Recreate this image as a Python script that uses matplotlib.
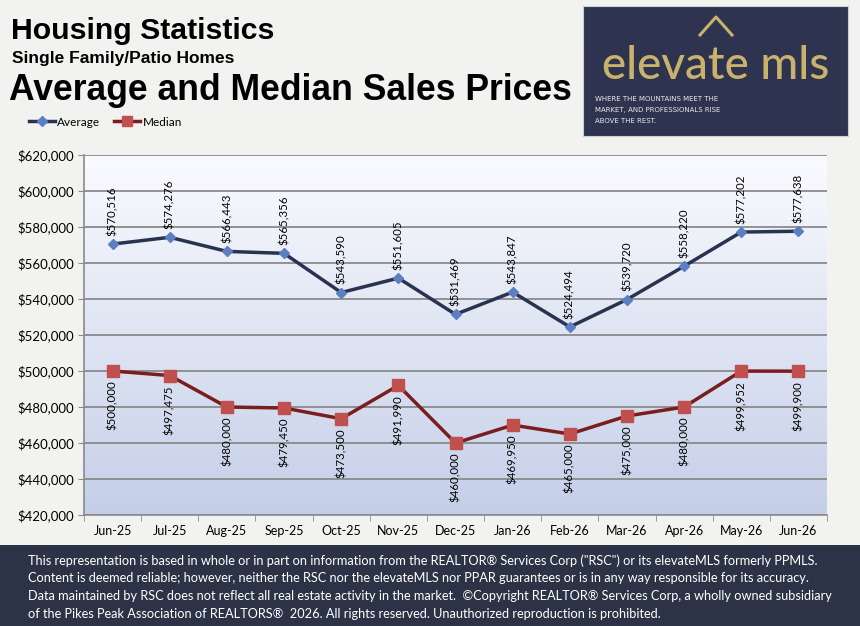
import numpy as np
import matplotlib.pyplot as plt
from matplotlib.patches import Rectangle
from matplotlib.lines import Line2D

# chart data
months = ['Jun-25', 'Jul-25', 'Aug-25', 'Sep-25', 'Oct-25', 'Nov-25', 'Dec-25',
          'Jan-26', 'Feb-26', 'Mar-26', 'Apr-26', 'May-26', 'Jun-26']
average = [570516, 574276, 566443, 565356, 543590, 551605, 531469,
           543847, 524494, 539720, 558220, 577202, 577638]
median = [500000, 497475, 480000, 479450, 473500, 491990, 460000,
          469950, 465000, 475000, 480000, 499952, 499900]
y_ticks = list(range(420000, 620001, 20000))

footer_lines = [
    'This representation is based in whole or in part on information from the REALTOR\u00ae Services Corp ("RSC") or its elevateMLS formerly PPMLS.',
    'Content is deemed reliable; however, neither the RSC nor the elevateMLS nor PPAR guarantees or is in any way responsible for its accuracy.',
    'Data maintained by RSC does not reflect all real estate activity in the market.  \u00a9Copyright REALTOR\u00ae Services Corp, a wholly owned subsidiary',
    'of the Pikes Peak Association of REALTORS\u00ae  2026. All rights reserved. Unauthorized reproduction is prohibited.',
]

W, H = 860, 626
fig = plt.figure(figsize=(W / 100, H / 100), dpi=100, facecolor='#f2f2f0')

def fx(px):
    return px / W

def fy(py):
    return 1 - py / H

# titles
fig.text(fx(11), fy(31), 'Housing Statistics', fontsize=21.8, fontweight='bold',
         family='Liberation Sans', va='center', ha='left')
fig.text(fx(12), fy(58), 'Single Family/Patio Homes', fontsize=12.5, fontweight='bold',
         family='Liberation Sans', va='center', ha='left')
fig.text(fx(9), fy(90), 'Average and Median Sales Prices', fontsize=25.6, fontweight='bold',
         family='Liberation Sans', va='center', ha='left')

# logo block
gold = '#c8b26c'
fig.patches.append(Rectangle((fx(583), fy(136)), fx(848) - fx(583), fy(6) - fy(136),
                             transform=fig.transFigure, facecolor='#2e3450',
                             edgecolor='#d0d0d0', lw=0.8))
fig.lines.append(Line2D([fx(700), fx(716), fx(732)], [fy(35), fy(17), fy(35)],
                        transform=fig.transFigure, color=gold, lw=2.2))
fig.text(fx(716), fy(66), 'elevate mls', fontsize=33, color=gold, ha='center',
         va='center', family='Lato', fontweight='medium')
for i, line in enumerate(['WHERE THE MOUNTAINS MEET THE',
                          'MARKET, AND PROFESSIONALS RISE',
                          'ABOVE THE REST.']):
    fig.text(fx(595), fy(99 + i * 11), line, fontsize=5, color='#e8e8ee', ha='left',
             va='center', family='DejaVu Sans')

# footer band
fig.patches.append(Rectangle((0, 0), 1, fy(545), transform=fig.transFigure,
                             facecolor='#2c3347', edgecolor='none'))
for i, line in enumerate(footer_lines):
    fig.text(fx(28), fy(561 + i * 17.5), line, fontsize=9.2, color='white',
             ha='left', va='center', family='Lato')

# chart
ax = fig.add_axes([fx(84), fy(515), fx(827) - fx(84), fy(155) - fy(515)])
ax.set_facecolor('none')
grad = np.linspace(0, 1, 256).reshape(-1, 1)
top = np.array([0.98, 0.985, 1.0])
bot = np.array([0.77, 0.81, 0.91])
img = top + (bot - top) * grad[..., None]
ax.imshow(img, extent=[0, 1, 0, 1], transform=ax.transAxes, aspect='auto', zorder=0)

x = np.arange(len(months))
ax.set_xlim(-0.5, len(months) - 0.5)
ax.set_ylim(420000, 620000)
ax.set_yticks(y_ticks)
ax.set_yticklabels(['${:,.0f}'.format(v) for v in y_ticks])
ax.set_xticks(x)
ax.set_xticklabels(months)
ax.set_xticks(np.arange(-0.5, len(months)), minor=True)
ax.grid(axis='y', color='#8a8a8a', lw=1.3, zorder=1)
ax.set_axisbelow(False)
for s in ['top', 'right']:
    ax.spines[s].set_visible(False)
for s in ['left', 'bottom']:
    ax.spines[s].set_color('#8a8a8a')
    ax.spines[s].set_linewidth(1.2)
ax.tick_params(axis='x', which='major', length=0, pad=7, labelsize=9)
ax.tick_params(axis='x', which='minor', length=4, color='#8a8a8a')
ax.tick_params(axis='y', length=4, color='#8a8a8a', labelsize=9.5, pad=3)
for lab in ax.get_xticklabels() + ax.get_yticklabels():
    lab.set_family('Lato')

ax.plot(x, average, color='#28344f', lw=2.5, marker='D', markersize=5.5,
        markerfacecolor='#5b7fc2', markeredgecolor='#5b7fc2', zorder=3, clip_on=False)
ax.plot(x, median, color='#7a1d1f', lw=2.5, marker='s', markersize=8,
        markerfacecolor='#c0504d', markeredgecolor='#c0504d', zorder=3, clip_on=False)

for xi, v in zip(x, average):
    ax.annotate('${:,.0f}'.format(v), (xi, v), xytext=(0, 6), textcoords='offset points',
                rotation=90, ha='center', va='bottom', fontsize=8.3, family='Lato', zorder=4)
for xi, v in zip(x, median):
    ax.annotate('${:,.0f}'.format(v), (xi, v), xytext=(0, -7), textcoords='offset points',
                rotation=90, ha='center', va='top', fontsize=8.3, family='Lato', zorder=4)

handles = [
    Line2D([], [], color='#28344f', lw=2.5, marker='D', markersize=5,
           markerfacecolor='#5b7fc2', markeredgecolor='#5b7fc2'),
    Line2D([], [], color='#7a1d1f', lw=2.5, marker='s', markersize=7,
           markerfacecolor='#c0504d', markeredgecolor='#c0504d'),
]
fig.legend(handles, ['Average', 'Median'], loc='center left',
           bbox_to_anchor=(fx(24), fy(122)), ncol=2, frameon=False,
           prop={'family': 'Lato', 'size': 8.5}, handlelength=2.2,
           handletextpad=0.2, columnspacing=1.2, borderaxespad=0)

fig.savefig('out.png', dpi=100, facecolor=fig.get_facecolor())
